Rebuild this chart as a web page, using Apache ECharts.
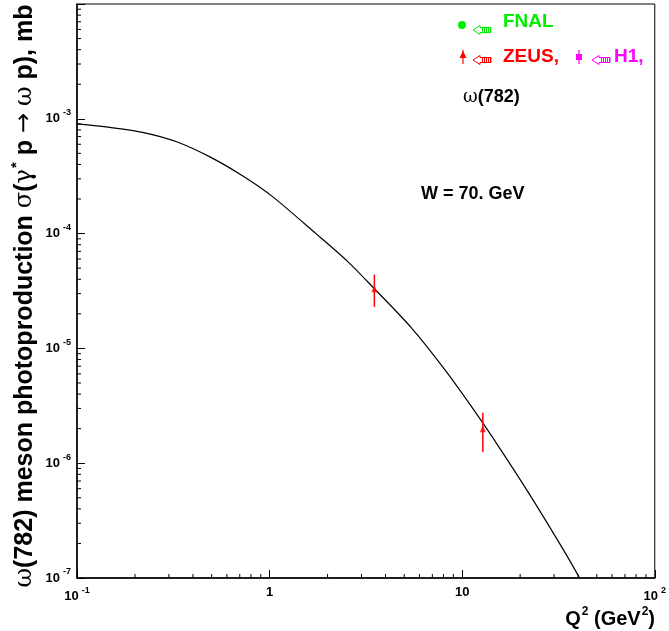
<!DOCTYPE html>
<html>
<head>
<meta charset="utf-8">
<script src="https://cdn.jsdelivr.net/npm/echarts@6/dist/echarts.min.js"></script>
<style>
  html, body { margin: 0; padding: 0; background: #fff; }
  #chart { width: 669px; height: 631px; }
</style>
</head>
<body>
<div id="chart"></div>
<script>
// Model curve: omega(782) cross section vs Q^2 at W = 70 GeV
const curveQ2 = [0.1, 0.148, 0.222, 0.329, 0.487, 0.73, 1.04, 1.74, 2.57, 3.47, 5.45, 8.16, 12.1, 15.9, 22.8, 34.1, 40.7];
const curveSigma = [9.02e-4, 8.41e-4, 7.59e-4, 6.31e-4, 4.68e-4, 3.16e-4, 2.09e-4, 1.00e-4, 5.62e-5, 3.36e-5, 1.51e-5, 6.46e-6, 2.57e-6, 1.30e-6, 5.09e-7, 1.68e-7, 1.0e-7];

// ZEUS measurements with their error bars
const zeusQ2 = [3.5, 12.8];
const zeusSigma = [3.3e-5, 2.0e-6];
const zeusLow = [2.3e-5, 1.25e-6];
const zeusHigh = [4.4e-5, 2.75e-6];

// Axis ranges and decade tick labels
const xRange = [0.1, 100];
const yRange = [1e-7, 1e-2];
const xTickLabels = { '0.1': ['10', '-1'], '1': ['1', ''], '10': ['10', ''], '100': ['10', '2'] };
const yTickLabels = { '-7': '-7', '-6': '-6', '-5': '-5', '-4': '-4', '-3': '-3' };

const FONT = '"Liberation Sans", Arial, sans-serif';

// minor tick positions at 2..9 within each decade
function minorTicks(lo, hi) {
  const out = [];
  for (let d = Math.round(Math.log10(lo)); d < Math.round(Math.log10(hi)); d++) {
    for (let k = 2; k <= 9; k++) out.push(k * Math.pow(10, d));
  }
  return out;
}
const xMinor = minorTicks(xRange[0], xRange[1]).map(v => [v, yRange[0]]);
const yMinor = minorTicks(yRange[0], yRange[1]).map(v => [xRange[0], v]);

const supRich = {
  b: { fontFamily: FONT, fontWeight: 'bold', fontSize: 13, color: '#000' },
  s: { fontFamily: FONT, fontWeight: 'bold', fontSize: 9, color: '#000', padding: [0, 0, 12, 3] }
};

const chart = echarts.init(document.getElementById('chart'), null, { renderer: 'canvas' });

// small hollow left arrow with a hatched tail, used in the key
function keyArrow(x, y, color) {
  const kids = [
    { type: 'polygon', shape: { points: [[0, 0], [7, -4.5], [7, -2.5], [18, -2.5], [18, 2.5], [7, 2.5], [7, 4.5]] },
      style: { fill: 'none', stroke: color, lineWidth: 1 } }
  ];
  for (let i = 0; i < 5; i++) {
    const xx = 9.5 + i * 2;
    kids.push({ type: 'line', shape: { x1: xx, y1: -2.5, x2: xx, y2: 2.5 }, style: { stroke: color, lineWidth: 1 } });
  }
  return { type: 'group', x: x, y: y, silent: true, children: kids };
}

const option = {
  animation: false,
  backgroundColor: '#fff',
  grid: { left: 77, right: 12, top: 4, bottom: 53, show: true, borderColor: '#000', borderWidth: 1, backgroundColor: 'transparent' },
  xAxis: {
    type: 'log', logBase: 10, min: xRange[0], max: xRange[1],
    axisLine: { show: true, lineStyle: { color: '#000', width: 1.5 } },
    axisTick: { show: true, inside: true, length: 8, lineStyle: { color: '#000', width: 1 } },
    splitLine: { show: false },
    axisLabel: {
      margin: 8,
      formatter: function (v) {
        const key = String(+v.toPrecision(6));
        const t = xTickLabels[key];
        if (!t) return '';
        return t[1] ? '{b|' + t[0] + '}{s|' + t[1] + '}' : '{b|' + t[0] + '}';
      },
      rich: supRich
    }
  },
  yAxis: {
    type: 'log', logBase: 10, min: yRange[0], max: yRange[1],
    axisLine: { show: true, lineStyle: { color: '#000', width: 1.5 } },
    axisTick: { show: true, inside: true, length: 8, lineStyle: { color: '#000', width: 1 } },
    splitLine: { show: false },
    axisLabel: {
      margin: 6,
      formatter: function (v) {
        const e = String(Math.round(Math.log10(v)));
        const t = yTickLabels[e];
        return t ? '{b|10}{s|' + t + '}' : '';
      },
      rich: supRich
    }
  },
  series: [
    {
      type: 'line', name: 'model', data: curveQ2.map((q, i) => [q, curveSigma[i]]),
      smooth: 0.3, showSymbol: false, lineStyle: { color: '#000', width: 1.2 }, z: 3
    },
    {
      type: 'custom', name: 'ZEUS errors',
      data: zeusQ2.map((q, i) => [q, zeusLow[i], zeusHigh[i]]),
      renderItem: function (params, api) {
        const lo = api.coord([api.value(0), api.value(1)]);
        const hi = api.coord([api.value(0), api.value(2)]);
        return { type: 'line', shape: { x1: lo[0], y1: lo[1], x2: hi[0], y2: hi[1] }, style: { stroke: '#ff0000', lineWidth: 1.5 } };
      },
      z: 4
    },
    {
      type: 'scatter', name: 'ZEUS', data: zeusQ2.map((q, i) => [q, zeusSigma[i]]),
      symbol: 'triangle', symbolSize: [6, 7], itemStyle: { color: '#ff0000' }, z: 5
    },
    {
      type: 'custom', name: 'x minor ticks', data: xMinor, clip: false, silent: true,
      renderItem: function (params, api) {
        const p = api.coord([api.value(0), api.value(1)]);
        return { type: 'line', shape: { x1: p[0], y1: p[1], x2: p[0], y2: p[1] - 4 }, style: { stroke: '#000', lineWidth: 1 } };
      }
    },
    {
      type: 'custom', name: 'y minor ticks', data: yMinor, clip: false, silent: true,
      renderItem: function (params, api) {
        const p = api.coord([api.value(0), api.value(1)]);
        return { type: 'line', shape: { x1: p[0], y1: p[1], x2: p[0] + 4, y2: p[1] }, style: { stroke: '#000', lineWidth: 1 } };
      }
    }
  ],
  graphic: [
    // axis titles
    {
      type: 'text', x: 25, y: 296, rotation: Math.PI / 2, silent: true,
      style: {
        text: '{g|ω}{t|(782) meson photoproduction }{g|σ}{t|(}{g|γ}{sp|*}{t| p }{a|→}{t| }{g|ω}{t| p), mb}',
        align: 'center', verticalAlign: 'middle',
        rich: {
          t: { fontFamily: FONT, fontWeight: 'bold', fontSize: 25, color: '#000' },
          g: { fontFamily: '"DejaVu Serif", serif', fontSize: 24, color: '#000' },
          a: { fontFamily: '"DejaVu Sans", sans-serif', fontSize: 24, color: '#000' },
          sp: { fontFamily: FONT, fontWeight: 'bold', fontSize: 15, color: '#000', padding: [0, 0, 17, 1] }
        }
      }
    },
    {
      type: 'text', right: 14, top: 606, silent: true,
      style: {
        text: '{t|Q}{s|2}{t| (GeV}{s|2}{t|)}',
        rich: {
          t: { fontFamily: FONT, fontWeight: 'bold', fontSize: 20, color: '#000' },
          s: { fontFamily: FONT, fontWeight: 'bold', fontSize: 12, color: '#000', padding: [0, 0, 14, 1] }
        }
      }
    },
    // key
    { type: 'circle', shape: { cx: 462, cy: 25, r: 4 }, style: { fill: '#00ee00' }, silent: true },
    keyArrow(473, 30, '#00ee00'),
    { type: 'text', x: 503, y: 22, silent: true,
      style: { text: 'FNAL', fontFamily: FONT, fontWeight: 'bold', fontSize: 19, fill: '#00ee00', verticalAlign: 'middle' } },
    { type: 'line', shape: { x1: 463, y1: 50, x2: 463, y2: 64 }, style: { stroke: '#ff0000', lineWidth: 1.2 }, silent: true },
    { type: 'polygon', shape: { points: [[463, 51], [459.5, 58], [466.5, 58]] }, style: { fill: '#ff0000' }, silent: true },
    keyArrow(473, 60, '#ff0000'),
    { type: 'text', x: 503, y: 57, silent: true,
      style: { text: 'ZEUS,', fontFamily: FONT, fontWeight: 'bold', fontSize: 19, fill: '#ff0000', verticalAlign: 'middle' } },
    { type: 'line', shape: { x1: 579, y1: 50, x2: 579, y2: 64 }, style: { stroke: '#ff00ff', lineWidth: 1.2 }, silent: true },
    { type: 'rect', shape: { x: 576, y: 54, width: 6, height: 6 }, style: { fill: '#ff00ff' }, silent: true },
    keyArrow(592, 60, '#ff00ff'),
    { type: 'text', x: 614, y: 57, silent: true,
      style: { text: 'H1,', fontFamily: FONT, fontWeight: 'bold', fontSize: 19, fill: '#ff00ff', verticalAlign: 'middle' } },
    { type: 'text', x: 463, y: 97, silent: true,
      style: {
        text: '{g|ω}{t|(782)}', verticalAlign: 'middle',
        rich: {
          t: { fontFamily: FONT, fontWeight: 'bold', fontSize: 18, color: '#000' },
          g: { fontFamily: '"DejaVu Serif", serif', fontSize: 18, color: '#000' }
        }
      } },
    { type: 'text', x: 421, y: 194, silent: true,
      style: { text: 'W = 70. GeV', fontFamily: FONT, fontWeight: 'bold', fontSize: 18, fill: '#000', verticalAlign: 'middle' } }
  ]
};

chart.setOption(option);
</script>
</body>
</html>
